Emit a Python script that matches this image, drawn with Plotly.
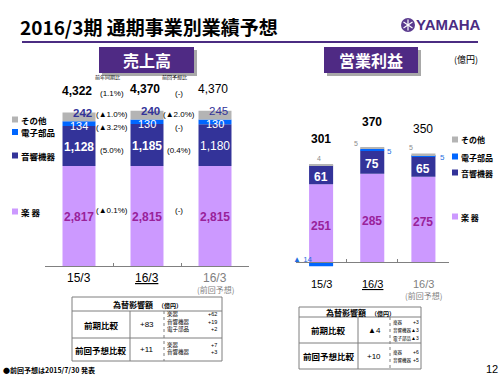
import plotly.graph_objects as go

W, H = 500, 375
JP = "Noto Sans CJK JP"
AR = "Liberation Sans, Noto Sans CJK JP"

# ---------------- data ----------------
categories = ['15/3', '16/3', '16/3(前回予想)']
tick_labels = ['15/3', '<u>16/3</u>', '16/3']
tick_sub = ['', '', '(前回予想)']

segment_names = ['楽 器', '音響機器', '電子部品', 'その他']
segment_colors = ['#CC99FF', '#333399', '#0066FF', '#B4B4B4']

sales_instruments = [2817, 2815, 2815]
sales_audio = [1128, 1185, 1180]
sales_electronic = [134, 130, 130]
sales_other = [242, 240, 245]
sales_total = [4322, 4370, 4370]
# order: total, other, electronic, audio, instruments
sales_vs_prior_year = ['(1.1%)', '(▲1.0%)', '(▲3.2%)', '(5.0%)', '(▲0.1%)']
sales_vs_prev_forecast = ['(-)', '(▲2.0%)', '(-)', '(0.4%)', '(-)']

op_instruments = [251, 285, 275]
op_audio = [61, 75, 65]
op_electronic = [-14, 5, 5]
op_other = [4, 5, 5]
op_total = [301, 370, 350]

fx_rows = ['前期比較', '前回予想比較']
fx_sales_values = ['+83', '+11']
fx_sales_detail = [[('楽器', '+62'), ('音響機器', '+19'), ('電子部品', '+2')],
                   [('楽器', '+7'), ('音響機器', '+3')]]
fx_op_values = ['▲4', '+10']
fx_op_detail = [[('楽器', '+3'), ('音響機器', '▲3'), ('電子部品', '▲3')],
                [('楽器', '+6'), ('音響機器', '+5')]]

# ---------------- helpers ----------------
shapes, annotations = [], []


def px(x):
    return x / W


def py(y):
    return 1 - y / H


def rect(x0, y0, x1, y1, fill=None, line=None, lw=1):
    shapes.append(dict(type='rect', xref='paper', yref='paper', x0=px(x0), x1=px(x1),
                       y0=py(y1), y1=py(y0), fillcolor=fill or 'rgba(0,0,0,0)',
                       line=dict(color=line or 'rgba(0,0,0,0)', width=lw if line else 0),
                       layer='above'))


def seg(x0, y0, x1, y1, color='#808080', width=1, dash='solid'):
    shapes.append(dict(type='line', xref='paper', yref='paper', x0=px(x0), x1=px(x1),
                       y0=py(y0), y1=py(y1), line=dict(color=color, width=width, dash=dash),
                       layer='above'))


def text(t, x, y, size, color='#000', bold=False, xanchor='center', family=AR):
    annotations.append(dict(text=('<b>%s</b>' % t) if bold else t, x=px(x), y=py(y),
                            xref='paper', yref='paper', showarrow=False, xanchor=xanchor,
                            yanchor='middle', borderpad=0,
                            font=dict(size=size, color=color, family=family)))


def dtext(t, xi, yv, ax, size, color='#000', bold=False, xshift=0, yshift=0, family=AR):
    annotations.append(dict(text=('<b>%s</b>' % t) if bold else t, x=xi, y=yv,
                            xref='x' + ax, yref='y' + ax, showarrow=False, xanchor='center',
                            yanchor='middle', xshift=xshift, yshift=yshift, borderpad=0,
                            font=dict(size=size, color=color, family=family)))


# ---------------- bars ----------------
fig = go.Figure()
sales_series = [sales_instruments, sales_audio, sales_electronic, sales_other]
op_series = [op_instruments, op_audio, op_electronic, op_other]
for name, vals, col in zip(segment_names, sales_series, segment_colors):
    fig.add_trace(go.Bar(x=categories, y=vals, name=name, marker=dict(color=col, line=dict(width=0)),
                         width=0.485, xaxis='x', yaxis='y', hoverinfo='skip'))
for name, vals, col in zip(segment_names, op_series, segment_colors):
    fig.add_trace(go.Bar(x=categories, y=vals, name=name, marker=dict(color=col, line=dict(width=0)),
                         width=0.47, xaxis='x2', yaxis='y2', hoverinfo='skip'))

# ---------------- header ----------------
text('2016/3期 通期事業別業績予想', 19, 27, 19, '#000', True, 'left', JP)
seg(22, 42, 478, 42, '#4B2C82', 2)
shapes.append(dict(type='circle', xref='paper', yref='paper', x0=px(401), x1=px(415),
                   y0=py(32), y1=py(18), fillcolor='#5A3A8E', line=dict(width=0)))
for (a, b, c, d) in [(408, 19.5, 408, 30.5), (403.5, 22, 412.5, 28), (403.5, 28, 412.5, 22)]:
    seg(a, b, c, d, 'white', 1.2)
text('YAMAHA', 415, 25, 15, '#4B2C82', True, 'left', 'Liberation Sans')

purple = '#4F2A84'
for (x0, x1, label) in [(99, 194, '売上高'), (324, 418, '営業利益')]:
    rect(x0 + 3, 50, x1 + 3, 76, '#A8A8A8')
    rect(x0, 47, x1, 73, purple)
    text(label, (x0 + x1) / 2, 60, 16, 'white', True, 'center', JP)
text('(億円)', 466, 59, 9, '#000', False, 'center', JP)

# ---------------- left chart labels ----------------
navy = '#333399'
mag = '#99229A'
text('前年同期比', 107, 77, 5, '#000', False, 'center', JP)
text('前回予想比', 174, 77, 5, '#000', False, 'center', JP)
for i in range(3):
    b = i < 2
    inst, aud, ele, oth = sales_instruments[i], sales_audio[i], sales_electronic[i], sales_other[i]
    dtext('{:,}'.format(sales_total[i]), i, sales_total[i], '', 12, '#000', b, -2, 22)
    dtext('{:,}'.format(oth), i, inst + aud + ele + oth / 2, '', 11.5, navy, b, 3, 4)
    dtext('{:,}'.format(ele), i, inst + aud + ele / 2, '', 11, 'white', False, 0, -2)
    dtext('{:,}'.format(aud), i, inst + aud / 2, '', 12, 'white', b, 0, -1)
    dtext('{:,}'.format(inst), i, inst / 2, '', 12, mag, True, 0, -1)

cmp_y = [93, 114, 128, 150, 210]
for k in range(5):
    annotations.append(dict(text=sales_vs_prior_year[k], x=0.5, xref='x', y=py(cmp_y[k]), yref='paper',
                            showarrow=False, xanchor='center', yanchor='middle', xshift=-1,
                            font=dict(size=8, family=AR, color='#000')))
    annotations.append(dict(text=sales_vs_prev_forecast[k], x=1.5, xref='x', y=py(cmp_y[k]), yref='paper',
                            showarrow=False, xanchor='center', yanchor='middle', xshift=-2,
                            font=dict(size=8, family=AR, color='#000')))

# legends
for (lx, fs, items) in [(12, 8.5, [(3, 120), (2, 132.5), (1, 156), (0, 212)]),
                        (452, 8, [(3, 140), (2, 157), (1, 173), (0, 217)])]:
    for (si, yy) in items:
        rect(lx, yy - 3.5, lx + 6, yy + 2.5, segment_colors[si])
        text(segment_names[si], lx + 8, yy, fs, '#000', True, 'left', JP)

# category labels
for ax, ylab, ysub, fs in [('x', 278, 289, 12), ('x2', 284, 295, 11)]:
    for i in range(3):
        col = '#7F7F7F' if i == 2 else '#000'
        annotations.append(dict(text=tick_labels[i], x=i, xref=ax, y=py(ylab), yref='paper',
                                showarrow=False, xanchor='center', yanchor='middle',
                                font=dict(size=fs, family=AR, color=col)))
        if tick_sub[i]:
            annotations.append(dict(text=tick_sub[i], x=i, xref=ax, y=py(ysub), yref='paper',
                                    showarrow=False, xanchor='center', yanchor='middle',
                                    font=dict(size=8, family=JP, color=col)))

# ---------------- right chart labels ----------------
blue = '#1F6FE0'
for i in range(3):
    b = i < 2
    inst, aud, ele, oth = op_instruments[i], op_audio[i], op_electronic[i], op_other[i]
    top = inst + aud + max(ele, 0) + oth
    dtext(str(op_total[i]), i, top, '2', 12, '#000', b, 0, 25)
    dtext(str(aud), i, inst + aud / 2, '2', 12, 'white', True, 0, -2)
    dtext(str(inst), i, inst / 2, '2', 12, mag, True, 0, -3)
dtext(str(op_other[0]), 0, 316, '2', 7, '#8C8C8C', False, -2, 6)
dtext(str(op_other[1]), 1, 370, '2', 7, '#8C8C8C', False, -16, 4)
dtext(str(op_other[2]), 2, 350, '2', 7, '#8C8C8C', False, -12, 6)
dtext(str(op_electronic[1]), 1, 362.5, '2', 8, blue, False, 17, -2)
dtext(str(op_electronic[2]), 2, 342.5, '2', 8, blue, False, 19, -2)
dtext('▲ ' + str(-op_electronic[0]), 0, 0, '2', 8, blue, False, -18, 3)

# ---------------- FX tables ----------------
tcol = '#7F7F7F'


def table(x0, x1, ytop, yhead, ymid, ybot, xc1, xc2, values, details, drow, nfs, vfs, vpad):
    rect(x0, ytop, x1, ybot, None, tcol, 1)
    seg(x0, yhead, x1, yhead, tcol, 1)
    seg(x0, ymid, x1, ymid, tcol, 1)
    seg(xc1, yhead, xc1, ybot, tcol, 1)
    seg(xc2, yhead, xc2, ybot, tcol, 1, 'dot')
    text('為替影響額　<span style="font-size:6px">（億円）</span>', (x0 + x1) / 2, (ytop + yhead) / 2, 8, '#000', True,
         'center', JP)
    rows_y = [(yhead + ymid) / 2, (ymid + ybot) / 2]
    for r in range(2):
        text(fx_rows[r], (x0 + xc1) / 2, rows_y[r], 8.5, '#000', True, 'center', JP)
        text(values[r], (xc1 + xc2) / 2, rows_y[r], 8, '#000', False, 'center', AR)
        for j, (nm, v) in enumerate(details[r]):
            yy = drow[r][j]
            text(nm, xc2 + 2, yy, nfs, '#000', False, 'left', JP)
            text(v, x1 - vpad, yy, vfs, '#000', False, 'right', AR)


table(72, 222, 297, 311, 338, 361, 130, 164, fx_sales_values, fx_sales_detail,
      [[314, 321.5, 329], [344.5, 352]], 5.5, 5.5, 4)
table(299, 421, 307, 317, 343, 369, 358, 390, fx_op_values, fx_op_detail,
      [[322, 330, 338], [352, 360]], 4.5, 5, 1.5)

text('●前回予想は2015/7/30 発表', 2, 370, 7, '#000', True, 'left', JP)
text('12', 492, 369, 11, '#000', False, 'center', AR)

# ---------------- layout ----------------
axis_common = dict(type='category', range=[-0.5, 2.5], showline=True, linecolor='#808080', linewidth=1,
                   ticks='inside', ticklen=3, tickcolor='#808080', tickson='boundaries',
                   showticklabels=False, showgrid=False, zeroline=False, fixedrange=True)
fig.update_layout(
    width=W, height=H, margin=dict(l=0, r=0, t=0, b=0),
    paper_bgcolor='white', plot_bgcolor='rgba(0,0,0,0)',
    barmode='relative', showlegend=False,
    font=dict(family=AR),
    xaxis=dict(domain=[45 / W, 249 / W], anchor='y', **axis_common),
    yaxis=dict(domain=[py(266), py(40)], range=[0, 226 / 0.0355], visible=False, fixedrange=True),
    xaxis2=dict(domain=[295.5 / W, 449 / W], anchor='free', position=py(262), **axis_common),
    yaxis2=dict(domain=[py(272), py(40)], range=[-10 / 0.31, 222 / 0.31], anchor='x2', visible=False,
                fixedrange=True),
    shapes=shapes, annotations=annotations,
)
fig.write_html('out.html', config={'displayModeBar': False},
               post_script="document.body.style.margin='0';document.body.style.overflow='hidden';")
